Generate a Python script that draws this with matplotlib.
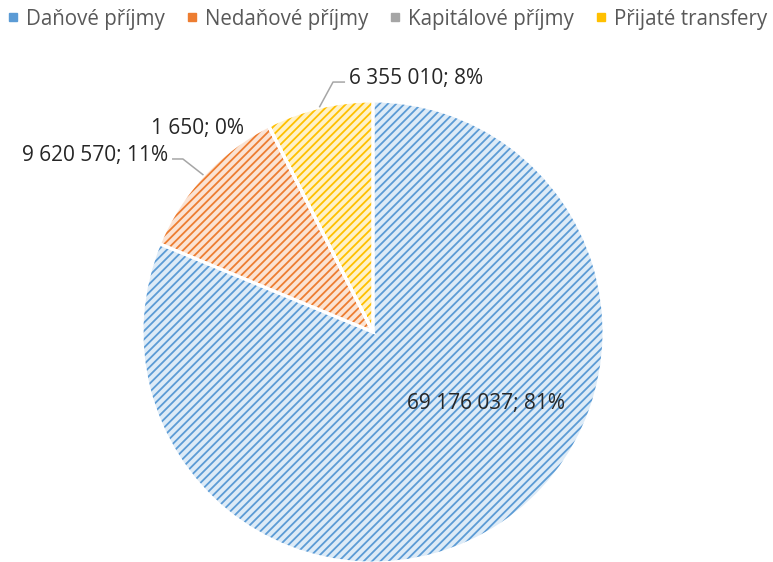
import numpy as np
import matplotlib
matplotlib.use("Agg")
import matplotlib.pyplot as plt
from matplotlib.lines import Line2D

plt.rcParams["font.family"] = ["Open Sans", "DejaVu Sans"]
plt.rcParams["hatch.linewidth"] = 1.3

# data
categories = ["Daňové příjmy", "Nedaňové příjmy", "Kapitálové příjmy", "Přijaté transfery"]
values = [69176037, 9620570, 1650, 6355010]
labels = ["69 176 037; 81%", "9 620 570; 11%", "1 650; 0%", "6 355 010; 8%"]

# styles
line_colors = ["#5B9BD5", "#ED7D31", "#A5A5A5", "#FFC000"]
fill_colors = ["#DDEBF7", "#FBE3D3", "#EDEDED", "#FFF2C8"]

# label positions (axes data units, pie radius = 1), baseline aligned
label_pos = [(0.489, -0.333, "center"), (-0.887, 0.740, "right"),
             (-0.758, 0.857, "center"), (-0.104, 1.074, "left")]
# leader lines: (text end, elbow) for slices that have one
leaders = {1: [(-0.870, 0.749), (-0.823, 0.749)],
           3: [(-0.121, 1.082), (-0.173, 1.082)]}

fig = plt.figure(figsize=(7.73, 5.62), dpi=100)
ax = fig.add_axes([0, 0, 1, 1])

wedges, _ = ax.pie(values, colors=fill_colors, startangle=90, counterclock=False,
                   hatch="////", wedgeprops=dict(linewidth=0))
for w, c in zip(wedges, line_colors):
    w.set_edgecolor(c)
    w.set_linewidth(0)

# white separators on top
ax.pie(values, colors=["none"] * 4, startangle=90, counterclock=False,
       wedgeprops=dict(edgecolor="white", linewidth=2.2))

# labels + leader lines (to the wedge edge at its mid angle)
for i, w in enumerate(wedges):
    mid = np.deg2rad((w.theta1 + w.theta2) / 2)
    x, y, ha = label_pos[i]
    ax.text(x, y, labels[i], ha=ha, va="baseline", fontsize=15, color="#262626")
    if i in leaders:
        (x0, y0), (x1, y1) = leaders[i]
        ax.plot([x0, x1, np.cos(mid)], [y0, y1, np.sin(mid)],
                color="#A6A6A6", lw=1.1, solid_capstyle="butt")

r_px = 231
cx, cy = 373, 332
ax.set_xlim(-cx / r_px, (773 - cx) / r_px)
ax.set_ylim(-(562 - cy) / r_px, cy / r_px)
ax.set_aspect("auto")
ax.axis("off")

handles = [Line2D([], [], marker="s", linestyle="none", markersize=5.5,
                  markerfacecolor=c, markeredgecolor=c) for c in line_colors]
fig.legend(handles, categories, loc="center", bbox_to_anchor=(0.502, 1 - 19 / 562),
           ncol=4, frameon=False, fontsize=14.8, labelcolor="#595959",
           handlelength=0.35, handletextpad=0.45, columnspacing=1.15,
           borderpad=0, borderaxespad=0)

fig.savefig("out.png", dpi=100)
